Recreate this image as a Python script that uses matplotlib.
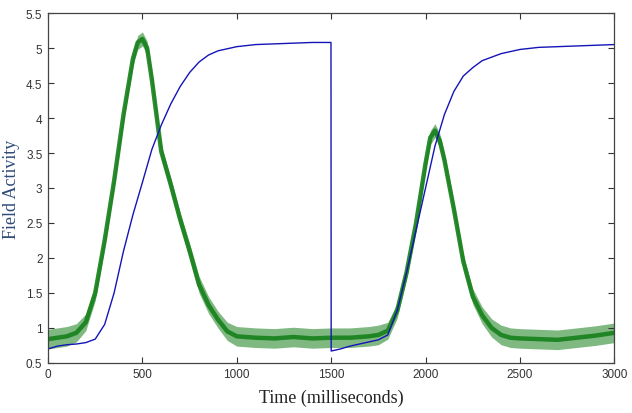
import matplotlib
matplotlib.use('Agg')
from matplotlib import pyplot as plt
from matplotlib.ticker import FormatStrFormatter

# blue trace (field activity, smooth)
blue_t = [0, 50, 100, 150, 200, 250, 300, 350, 400, 450, 500, 550, 600, 650, 700,
          750, 800, 850, 900, 1000, 1100, 1200, 1300, 1400, 1499,
          1500, 1550, 1600, 1650, 1700, 1750, 1800, 1850, 1900, 1950, 2000, 2050,
          2100, 2150, 2200, 2250, 2300, 2400, 2500, 2600, 2700, 2800, 2900, 3000]
blue_v = [0.70, 0.74, 0.76, 0.77, 0.79, 0.84, 1.05, 1.50, 2.10, 2.62, 3.08, 3.55, 3.90,
          4.20, 4.45, 4.65, 4.80, 4.90, 4.96, 5.02, 5.05, 5.06, 5.07, 5.08, 5.08,
          0.67, 0.70, 0.74, 0.77, 0.80, 0.83, 0.90, 1.25, 1.80, 2.40, 3.00, 3.60,
          4.05, 4.38, 4.60, 4.72, 4.82, 4.92, 4.98, 5.01, 5.02, 5.03, 5.04, 5.05]

# green trace (noisy), centre line and noise half-width
green_t = [0, 50, 100, 150, 200, 250, 300, 350, 400, 450, 475, 500, 525, 550, 600,
           650, 700, 750, 800, 850, 900, 950, 1000, 1100, 1200, 1300, 1400, 1500,
           1600, 1700, 1750, 1800, 1850, 1900, 1950, 2000, 2025, 2050, 2075, 2100,
           2150, 2200, 2250, 2300, 2350, 2400, 2450, 2500, 2600, 2700, 2800, 2900, 3000]
green_v = [0.84, 0.86, 0.88, 0.93, 1.08, 1.50, 2.25, 3.10, 4.05, 4.85, 5.08, 5.13,
           5.00, 4.55, 3.52, 3.05, 2.55, 2.10, 1.62, 1.33, 1.12, 0.95, 0.88, 0.86,
           0.85, 0.87, 0.85, 0.86, 0.86, 0.88, 0.90, 0.96, 1.25, 1.80, 2.50, 3.35,
           3.72, 3.82, 3.68, 3.40, 2.70, 1.95, 1.45, 1.18, 1.00, 0.90, 0.86, 0.85,
           0.84, 0.83, 0.86, 0.89, 0.93]
green_hw = [0.14, 0.14, 0.14, 0.13, 0.12, 0.11, 0.10, 0.10, 0.10, 0.10, 0.10, 0.10,
            0.10, 0.10, 0.10, 0.10, 0.10, 0.11, 0.12, 0.12, 0.12, 0.13, 0.14, 0.14,
            0.14, 0.14, 0.14, 0.14, 0.14, 0.14, 0.14, 0.12, 0.11, 0.10, 0.10, 0.10,
            0.10, 0.10, 0.10, 0.10, 0.10, 0.10, 0.11, 0.12, 0.13, 0.14, 0.14, 0.14,
            0.14, 0.14, 0.14, 0.14, 0.14]

x_ticks = [0, 500, 1000, 1500, 2000, 2500, 3000]
y_ticks = [0.5, 1, 1.5, 2, 2.5, 3, 3.5, 4, 4.5, 5, 5.5]

green = '#16801a'
blue = '#1414b8'

fig = plt.figure(figsize=(6.32, 4.14), dpi=100)
ax = fig.add_axes([0.076, 0.121, 0.896, 0.845])

lo_out = [v - h for v, h in zip(green_v, green_hw)]
hi_out = [v + h for v, h in zip(green_v, green_hw)]
ax.fill_between(green_t, lo_out, hi_out, color=green, alpha=0.55, linewidth=0)
ax.plot(green_t, green_v, color=green, linewidth=3.2, alpha=0.9,
        solid_joinstyle='round')

ax.plot(blue_t, blue_v, color=blue, linewidth=1.0)

ax.set_xlim(0, 3000)
ax.set_ylim(0.5, 5.5)
ax.set_xticks(x_ticks)
ax.set_yticks(y_ticks)
ax.yaxis.set_major_formatter(FormatStrFormatter('%g'))
ax.tick_params(direction='in', top=True, right=True, length=4, width=0.8,
               labelsize=8.5, colors='#333333', pad=4)
for lab in ax.get_xticklabels() + ax.get_yticklabels():
    lab.set_family('Liberation Sans')
for s in ax.spines.values():
    s.set_color('#444444')
    s.set_linewidth(0.9)

ax.set_xlabel('Time (milliseconds)', family='Liberation Serif', fontsize=13,
              color='#222222', labelpad=6)
ax.set_ylabel('Field Activity', family='Liberation Serif', fontsize=13,
              color='#2e4a78', labelpad=4)

plt.savefig('out.png', dpi=100, facecolor='white')
